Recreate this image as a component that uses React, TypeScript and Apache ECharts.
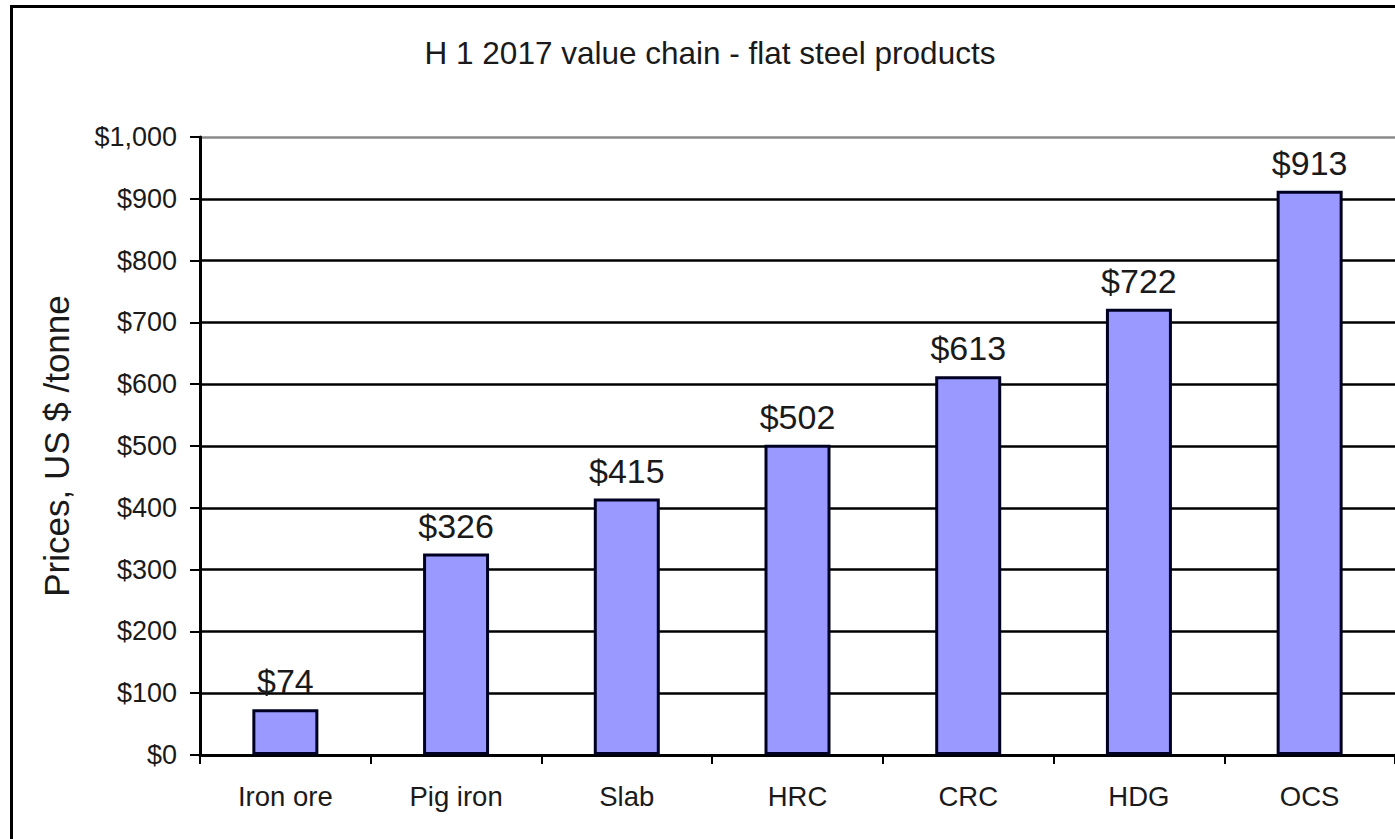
import React, { useEffect, useRef } from "react";
import * as echarts from "echarts";

const TITLE = "H 1 2017 value chain - flat steel products";
const Y_AXIS_NAME = "Prices, US $ /tonne";
const categories = ["Iron ore", "Pig iron", "Slab", "HRC", "CRC", "HDG", "OCS"];
const prices = [74, 326, 415, 502, 613, 722, 913];
const Y_MIN = 0;
const Y_MAX = 1000;
const Y_STEP = 100;

const FONT = "'Liberation Sans', Arial, Helvetica, sans-serif";

function money(v: number): string {
  return "$" + Math.round(v).toLocaleString("en-US");
}

export default function App() {
  const ref = useRef<HTMLDivElement>(null);

  useEffect(() => {
    if (!ref.current) return;
    const chart = echarts.init(ref.current, null, { renderer: "svg" });
    const nLines = Math.round((Y_MAX - Y_MIN) / Y_STEP) + 1;
    const splitColors: string[] = [];
    for (let i = 0; i < nLines; i++) splitColors.push(i === nLines - 1 ? "#8a8a8a" : "#000000");

    chart.setOption({
      animation: false,
      backgroundColor: "#ffffff",
      textStyle: { fontFamily: FONT },
      graphic: [
        {
          type: "rect",
          z: 100,
          silent: true,
          shape: { x: 11.5, y: 6.5, width: 1600, height: 1000 },
          style: { fill: "none", stroke: "#000000", lineWidth: 3 },
        },
        {
          type: "text",
          z: 100,
          style: {
            text: TITLE,
            x: 710,
            y: 53,
            textAlign: "center",
            textVerticalAlign: "middle",
            fontFamily: FONT,
            fontSize: 31.5,
            fill: "#1a1a1a",
          },
        },
      ],
      grid: { left: 200, right: 0, top: 137, bottom: 84, containLabel: false },
      xAxis: {
        type: "category",
        data: categories,
        axisLine: { show: true, lineStyle: { color: "#000000", width: 3 } },
        axisTick: { show: true, alignWithLabel: false, length: 9, lineStyle: { color: "#000000", width: 2 } },
        axisLabel: { color: "#1a1a1a", fontSize: 27.5, fontFamily: FONT, margin: 27 },
        splitLine: { show: false },
      },
      yAxis: {
        type: "value",
        min: Y_MIN,
        max: Y_MAX,
        interval: Y_STEP,
        name: Y_AXIS_NAME,
        nameLocation: "middle",
        nameGap: 126,
        nameRotate: 90,
        nameTextStyle: { color: "#1a1a1a", fontSize: 35, fontFamily: FONT },
        axisLine: { show: true, lineStyle: { color: "#000000", width: 3 } },
        axisTick: { show: true, length: 10, lineStyle: { color: "#000000", width: 2 } },
        axisLabel: {
          color: "#1a1a1a",
          fontSize: 27,
          fontFamily: FONT,
          margin: 23,
          formatter: (v: number) => money(v),
        },
        splitLine: { show: true, lineStyle: { color: splitColors, width: 2.5 } },
      },
      series: [
        {
          type: "bar",
          data: prices,
          barWidth: 66,
          itemStyle: { color: "#9999FF", borderColor: "#000022", borderWidth: 3 },
          label: {
            show: true,
            position: "top",
            distance: 11,
            color: "#1a1a1a",
            fontSize: 34,
            fontFamily: FONT,
            formatter: (p: any) => money(p.value),
          },
        },
      ],
    });

    return () => chart.dispose();
  }, []);

  return (
    <div
      ref={ref}
      style={{ position: "absolute", left: 0, top: 0, width: 1395, height: 839 }}
    />
  );
}
